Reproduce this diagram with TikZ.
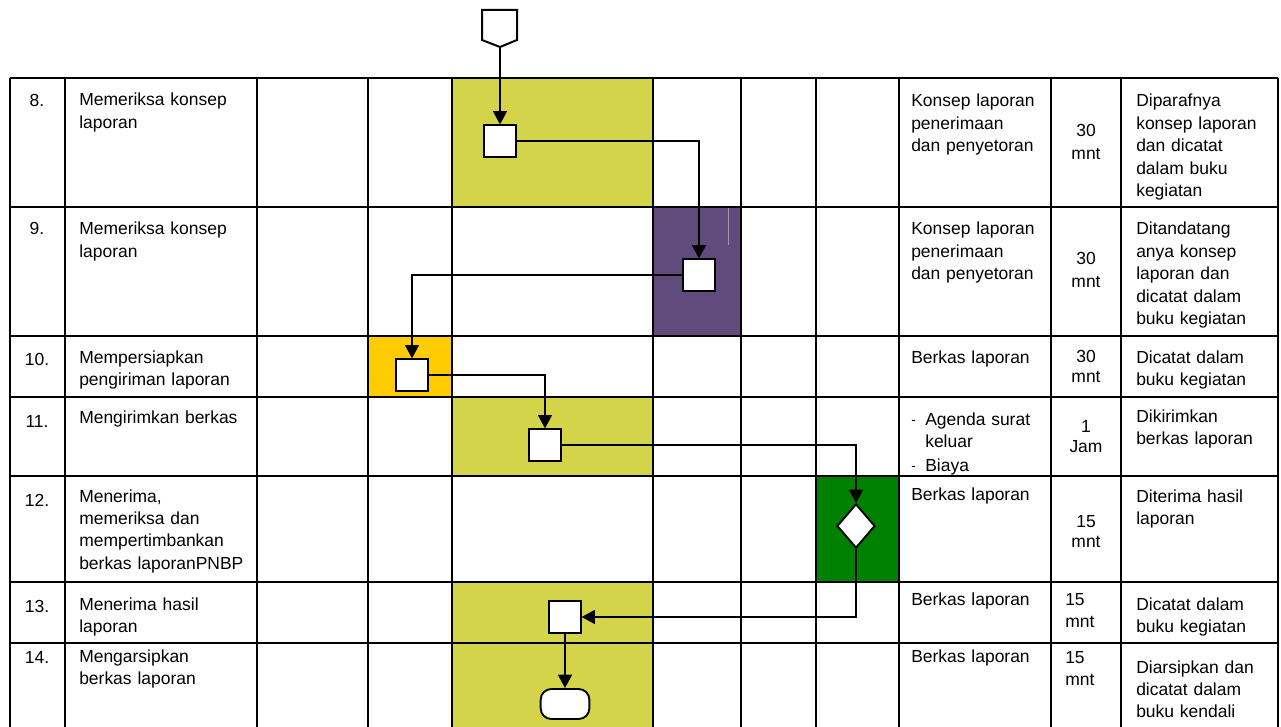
\documentclass[tikz,border=0pt]{standalone}
\usepackage{fontspec}
\setmainfont{Liberation Sans}
\usetikzlibrary{arrows.meta,shapes.geometric}
\definecolor{lyel}{RGB}{212,212,74}
\definecolor{lpur}{RGB}{97,75,125}
\definecolor{lora}{RGB}{255,204,0}
\definecolor{lgre}{RGB}{0,128,0}
\begin{document}
\begin{tikzpicture}[x=0.75pt,y=-0.75pt,
  grid/.style={line width=1.5pt},
  conn/.style={line width=1.1pt,-{Triangle[width=10.5pt,length=10pt]}},
  box/.style={draw,line width=1.4pt,fill=white,minimum width=23.5pt,minimum height=23.5pt,inner sep=0pt},
  txt/.style={anchor=base west,inner sep=0pt,font=\fontsize{13.1pt}{16.8pt}\selectfont,align=left},
  bullet/.style={anchor=base west,inner sep=0pt,font=\fontsize{10pt}{12pt}\selectfont},
  num/.style={anchor=base,inner sep=0pt,font=\fontsize{13.1pt}{16.8pt}\selectfont},
  dur/.style={anchor=base,inner sep=0pt,text width=50pt,align=center,font=\fontsize{13.1pt}{15.5pt}\selectfont},
  durl/.style={anchor=base west,inner sep=0pt,text width=50pt,align=left,font=\fontsize{13.1pt}{16.5pt}\selectfont}]
\useasboundingbox (0,0) rectangle (1281,727);
% fills
\fill[lyel] (452,78) rectangle (653,207);
\fill[lpur] (653,207) rectangle (741,336);
\draw[line width=0.6pt,color=lpur!60!white] (728,207) -- (728,245);
\fill[lora] (368,336) rectangle (452,397);
\fill[lyel] (452,397) rectangle (653,476);
\fill[lgre] (816,476) rectangle (899,582);
\fill[lyel] (452,582) rectangle (653,727);
% grid
\foreach \y in {78,207,336,397,476,582,643} \draw[grid] (10,\y) -- (1278,\y);
\foreach \x in {10,65,257,368,452,653,741,816,899,1051,1121,1278} \draw[grid] (\x,78) -- (\x,727);
% numbers
\node[num] (n8) at (37,107) {8.};
\node[num] (n9) at (37,235) {9.};
\node[num] (n10) at (37,365) {10.};
\node[num] (n11) at (37,427) {11.};
\node[num] (n12) at (37,506) {12.};
\node[num] (n13) at (37,612) {13.};
\node[num] (n14) at (37,663) {14.};
% descriptions
\node[txt,text width=170pt] (d8) at (79,106) {Memeriksa konsep\\laporan};
\node[txt,text width=170pt] (d9) at (79,235) {Memeriksa konsep\\laporan};
\node[txt,text width=170pt] (d10) at (79,363) {Mempersiapkan\\pengiriman laporan};
\node[txt,text width=170pt] (d11) at (79,423) {Mengirimkan berkas};
\node[txt,text width=170pt] (d12) at (79,502) {Menerima,\\memeriksa dan\\mempertimbankan\\berkas laporanPNBP};
\node[txt,text width=170pt] (d13) at (79,610) {Menerima hasil\\laporan};
\node[txt,text width=170pt] (d14) at (79,662) {Mengarsipkan\\berkas laporan};
% kelengkapan
\node[txt,text width=120pt] (k8) at (911,107) {Konsep laporan\\penerimaan\\dan penyetoran};
\node[txt,text width=120pt] (k9) at (911,235) {Konsep laporan\\penerimaan\\dan penyetoran};
\node[txt,text width=120pt] (k10) at (911,363) {Berkas laporan};
\node[bullet] (k11a) at (911,424) {-};
\node[txt,text width=100pt] (k11) at (925,425) {Agenda surat\\keluar};
\node[bullet] (k11c) at (911,470) {-};
\node[txt] (k11b) at (925,471) {Biaya};
\node[txt,text width=120pt] (k12) at (911,500) {Berkas laporan};
\node[txt,text width=120pt] (k13) at (911,605) {Berkas laporan};
\node[txt,text width=120pt] (k14) at (911,662) {Berkas laporan};
% waktu
\node[dur,font=\fontsize{13.1pt}{17pt}\selectfont] (w8) at (1086,137) {30\\mnt};
\node[dur,font=\fontsize{13.1pt}{17pt}\selectfont] (w9) at (1086,265) {30\\mnt};
\node[dur] (w10) at (1086,362) {30\\mnt};
\node[dur] (w11) at (1086,432) {1\\Jam};
\node[dur] (w12) at (1086,527) {15\\mnt};
\node[durl] (w13) at (1065,605) {15\\mnt};
\node[durl] (w14) at (1065,663) {15\\mnt};
% output
\node[txt,text width=110pt] (o8) at (1136,107) {Diparafnya\\konsep laporan\\dan dicatat\\dalam buku\\kegiatan};
\node[txt,text width=110pt] (o9) at (1136,235) {Ditandatang\\anya konsep\\laporan dan\\dicatat dalam\\buku kegiatan};
\node[txt,text width=110pt] (o10) at (1136,363) {Dicatat dalam\\buku kegiatan};
\node[txt,text width=110pt] (o11) at (1136,422) {Dikirimkan\\berkas laporan};
\node[txt,text width=110pt] (o12) at (1136,502) {Diterima hasil\\laporan};
\node[txt,text width=110pt] (o13) at (1136,610) {Dicatat dalam\\buku kegiatan};
\node[txt,text width=110pt] (o14) at (1136,673) {Diarsipkan dan\\dicatat dalam\\buku kendali};
% flow shapes
\draw[line width=1.5pt,fill=white] (482,10) -- (517,10) -- (517,40) -- (500,47) -- (482,40) -- cycle;
\coordinate (s) at (500,47);
\node[box] (b1) at (500,141) {};
\node[box] (b2) at (699,275) {};
\node[box] (b3) at (412,375) {};
\node[box] (b4) at (545,445) {};
\node[diamond,draw,line width=1.4pt,fill=white,minimum width=28.5pt,minimum height=33pt,inner sep=0pt] (dm) at (856,526) {};
\node[box] (b5) at (565,617) {};
\node[draw,line width=1.4pt,fill=white,rounded corners=8pt,minimum width=36.5pt,minimum height=22.5pt,inner sep=0pt] (end) at (565,704) {};
% connectors
\draw[conn] (s) -- (b1.north);
\draw[conn] (b1.east) -| (b2.north);
\draw[conn] (b2.west) -| (b3.north);
\draw[conn] (b3.east) -| (b4.north);
\draw[conn] (b4.east) -| (dm.north);
\draw[conn] (dm.south) |- (b5.east);
\draw[conn] (b5.south) -- (end.north);
\end{tikzpicture}
\end{document}
